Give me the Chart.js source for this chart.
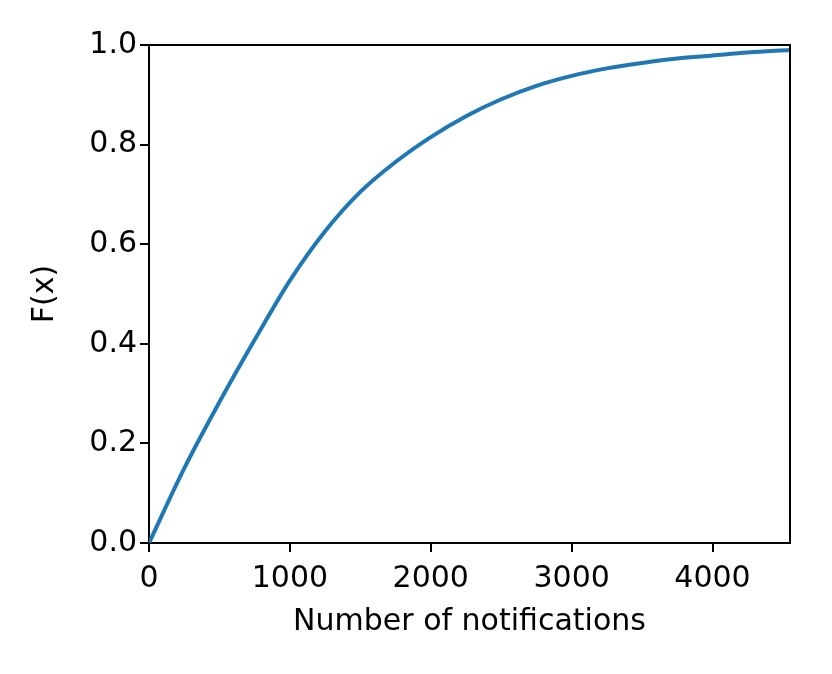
<!DOCTYPE html>
<html>
<head>
<meta charset="utf-8">
<script src="https://cdn.jsdelivr.net/npm/chart.js@4"></script>
<style>
  html, body { margin: 0; padding: 0; background: #fff; }
  canvas { display: block; }
</style>
</head>
<body>
<canvas id="chart" width="832" height="674"></canvas>
<script>
// CDF of notification counts
const notifications = [0, 250, 500, 750, 1000, 1250, 1500, 1750, 2000, 2250, 2500, 2750, 3000, 3250, 3500, 3750, 4000, 4250, 4550];
const cdf = [0, 0.15, 0.283, 0.408, 0.527, 0.626, 0.705, 0.765, 0.815, 0.857, 0.891, 0.918, 0.938, 0.953, 0.964, 0.973, 0.979, 0.985, 0.99];
const xTicks = [0, 1000, 2000, 3000, 4000];
const yTicks = [0, 0.2, 0.4, 0.6, 0.8, 1.0];

const FONT = "'DejaVu Sans', sans-serif";
const SIZE = 30;

/* draws the top + right spines */
const frame = {
    id: 'frame',
    afterDraw(chart) {
        const { ctx, chartArea: a } = chart;
        ctx.save();
        ctx.strokeStyle = '#000';
        ctx.lineWidth = 2;
        ctx.beginPath();
        ctx.moveTo(a.left, a.top);
        ctx.lineTo(a.right, a.top);
        ctx.lineTo(a.right, a.bottom);
        ctx.stroke();
        ctx.restore();
    }
};

new Chart(document.getElementById('chart'), {
    type: 'line',
    data: {
        datasets: [{
            data: notifications.map((x, i) => ({ x: x, y: cdf[i] })),
            borderColor: '#1f77b4',
            borderWidth: 4,
            pointRadius: 0,
            cubicInterpolationMode: 'monotone',
            fill: false
        }]
    },
    options: {
        responsive: false,
        animation: false,
        layout: { padding: { top: 45, right: 42, left: 0, bottom: 0 } },
        plugins: { legend: { display: false }, tooltip: { enabled: false } },
        scales: {
            x: {
                type: 'linear',
                min: 0,
                max: 4550,
                afterBuildTicks: s => { s.ticks = xTicks.map(v => ({ value: v })); },
                afterFit: s => { s.height = 131; },
                grid: { drawOnChartArea: false, drawTicks: true, tickLength: 9, color: '#000', lineWidth: 2 },
                border: { display: true, color: '#000', width: 2 },
                ticks: { color: '#000', font: { family: FONT, size: SIZE }, padding: 9, maxRotation: 0, callback: v => String(v) },
                title: { display: true, text: 'Number of notifications', color: '#000', font: { family: FONT, size: SIZE }, padding: { top: 6, bottom: 34 } }
            },
            y: {
                type: 'linear',
                min: 0,
                max: 1,
                afterBuildTicks: s => { s.ticks = yTicks.map(v => ({ value: v })); },
                afterFit: s => { s.width = 149; },
                grid: { drawOnChartArea: false, drawTicks: true, tickLength: 9, color: '#000', lineWidth: 2 },
                border: { display: true, color: '#000', width: 2 },
                ticks: { color: '#000', font: { family: FONT, size: SIZE }, padding: 3, callback: v => v.toFixed(1) },
                title: { display: true, text: 'F(x)', color: '#000', font: { family: FONT, size: SIZE }, padding: { top: 27, bottom: 8 } }
            }
        }
    },
    plugins: [frame]
});
</script>
</body>
</html>
